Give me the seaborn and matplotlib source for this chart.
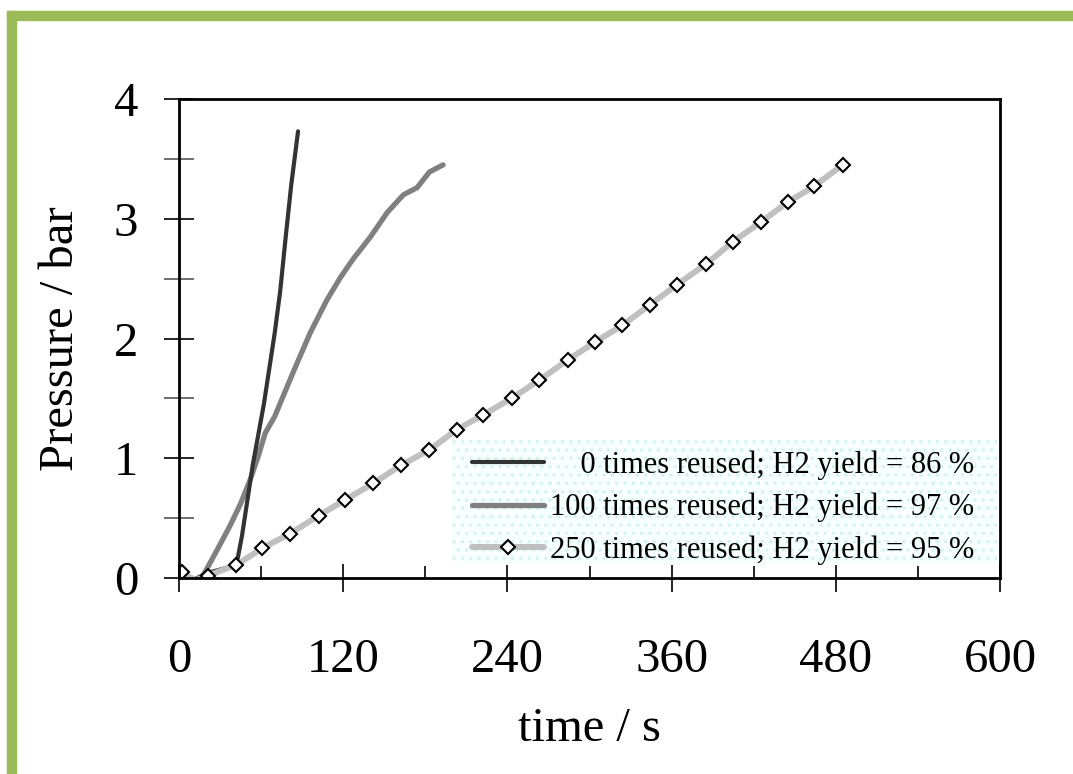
import numpy as np
import pandas as pd
import matplotlib
matplotlib.use("Agg")
import matplotlib.pyplot as plt
from matplotlib.patches import Rectangle
from matplotlib.ticker import MultipleLocator, NullFormatter
import seaborn as sns

# ---- data ----
t0 = [0, 10, 20, 30, 42, 46, 50, 54, 58, 62, 66, 70, 74, 78, 82, 87]
p0 = [0, -0.02, 0.04, 0.07, 0.11, 0.35, 0.65, 0.95, 1.2, 1.45, 1.75, 2.05, 2.4, 2.85, 3.28, 3.73]

t100 = [0, 8, 15, 21, 30, 37, 45, 52, 58, 63, 70, 78, 85, 96, 108, 118, 127, 140, 152, 164, 174, 183, 193]
p100 = [0, -0.02, -0.03, 0.09, 0.28, 0.43, 0.62, 0.82, 1.02, 1.21, 1.35, 1.57, 1.76, 2.05, 2.32, 2.51,
        2.66, 2.85, 3.05, 3.2, 3.26, 3.39, 3.45]

t250 = [2, 12, 21, 42, 61, 81, 102, 121, 142, 162, 183, 203, 222, 243, 263, 284, 304, 324, 344, 364,
        385, 405, 425, 445, 464, 485]
p250 = [0.05, -0.02, 0.02, 0.11, 0.25, 0.37, 0.52, 0.65, 0.79, 0.94, 1.07, 1.24, 1.36, 1.5, 1.65, 1.82,
        1.97, 2.11, 2.28, 2.45, 2.62, 2.81, 2.97, 3.14, 3.27, 3.45]
marked250 = [0] + list(range(2, len(t250)))  # point indices carrying a diamond

labels = ["    0 times reused; H2 yield = 86 %",
          "100 times reused; H2 yield = 97 %",
          "250 times reused; H2 yield = 95 %"]
x_ticks = [0, 120, 240, 360, 480, 600]
y_ticks = [0, 1, 2, 3, 4]

# ---- style ----
sns.set_style("ticks")
plt.rcParams["font.family"] = ["Liberation Serif", "DejaVu Serif"]
plt.rcParams["hatch.linewidth"] = 1.2
plt.rcParams["text.color"] = "black"
plt.rcParams["axes.labelcolor"] = "black"
plt.rcParams["xtick.labelcolor"] = "black"
plt.rcParams["ytick.labelcolor"] = "black"

fig = plt.figure(figsize=(10.73, 7.74), dpi=100)
ax = fig.add_axes([179 / 1073, 1 - 578 / 774, (1000 - 179) / 1073, (578 - 99) / 774])

d0 = pd.DataFrame({"t": t0, "p": p0})
d1 = pd.DataFrame({"t": t100, "p": p100})
d2 = pd.DataFrame({"t": t250, "p": p250})

sns.lineplot(data=d0, x="t", y="p", ax=ax, color="#333333", lw=3.0, label=labels[0],
             sort=False, zorder=4)
sns.lineplot(data=d1, x="t", y="p", ax=ax, color="#808080", lw=3.8, label=labels[1],
             sort=False, zorder=3)
sns.lineplot(data=d2, x="t", y="p", ax=ax, color="#c0c0c0", lw=4.3, label=labels[2],
             sort=False, marker="D", markevery=marked250, markersize=7,
             markerfacecolor="white", markeredgecolor="black", markeredgewidth=1.5, zorder=5)

ax.set_xlim(0, 600)
ax.set_ylim(0, 4)
ax.set_xticks(x_ticks)
ax.set_yticks(y_ticks)
ax.xaxis.set_minor_locator(MultipleLocator(60))
ax.yaxis.set_minor_locator(MultipleLocator(0.5))
ax.xaxis.set_minor_formatter(NullFormatter())
ax.yaxis.set_minor_formatter(NullFormatter())

for s in ax.spines.values():
    s.set_visible(True)
    s.set_color("black")
    s.set_linewidth(2.0)
    s.set_zorder(6)

ax.tick_params(axis="x", which="major", direction="inout", length=20, width=1.2,
               color="black", labelsize=35, pad=33)
ax.tick_params(axis="x", which="minor", direction="in", length=9, width=1.2, color="black")
ax.tick_params(axis="y", which="major", direction="inout", length=21, width=1.2,
               color="black", labelsize=35, pad=19)
ax.tick_params(axis="y", which="minor", direction="inout", length=21, width=1.2, color="#555555")

ax.set_xlabel("time / s", fontsize=35, labelpad=18)
ax.set_ylabel("Pressure / bar", fontsize=35, labelpad=22)

# legend background: light dotted panel
bg = Rectangle((0.3325, 0.027), 0.9963 - 0.3325, 0.288 - 0.027, transform=ax.transAxes,
               facecolor="#f7ffff", edgecolor="#d2f2f2", linewidth=0, hatch="..", zorder=1)
ax.add_patch(bg)

leg = ax.legend(loc="upper left", bbox_to_anchor=(0.3569, 0.266), borderaxespad=0,
                fontsize=22, handlelength=2.35, handletextpad=0.2, labelspacing=0.42,
                frameon=False, borderpad=0)
leg.set_zorder(7)

# green decorative border (top and left)
fig.patches.append(Rectangle((7 / 1073, 1 - 20 / 774), 1 - 7 / 1073, 9 / 774,
                             transform=fig.transFigure, color="#9bbb59", zorder=0))
fig.patches.append(Rectangle((7 / 1073, 0), 9 / 1073, 1 - 11 / 774,
                             transform=fig.transFigure, color="#9bbb59", zorder=0))

fig.savefig("out.png", dpi=100)
